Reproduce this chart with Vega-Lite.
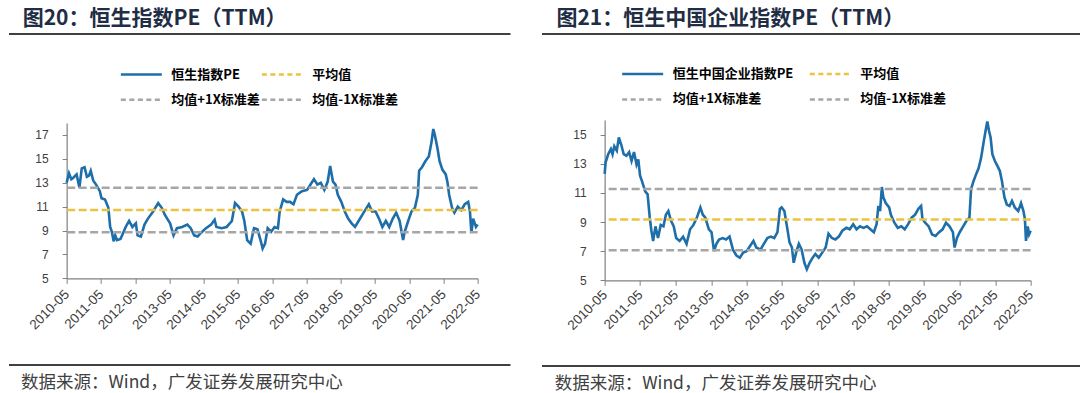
{
"$schema": "https://vega.github.io/schema/vega-lite/v6.json",
"background": "white",
"padding": {"left": 7.75, "top": 7, "right": 0, "bottom": 0},
"spacing": 0,
"resolve": {"scale": {"color": "independent"}, "legend": {"color": "independent"}},
"datasets": {
"hsi": [
{"d":"2010-05-01","pe":13.0},{"d":"2010-05-26","pe":13.8},{"d":"2010-06-20","pe":13.3},{"d":"2010-07-09","pe":13.4},{"d":"2010-08-15","pe":13.7},{"d":"2010-09-14","pe":12.6},{"d":"2010-10-09","pe":14.2},{"d":"2010-11-08","pe":14.3},{"d":"2010-12-03","pe":13.5},{"d":"2010-12-25","pe":13.6},
{"d":"2011-01-13","pe":14.0},{"d":"2011-02-08","pe":13.2},{"d":"2011-03-14","pe":12.8},{"d":"2011-04-20","pe":12.3},{"d":"2011-05-08","pe":11.7},{"d":"2011-06-14","pe":11.6},{"d":"2011-07-20","pe":10.9},{"d":"2011-08-08","pe":9.3},{"d":"2011-08-26","pe":8.9},{"d":"2011-09-14","pe":8.1},{"d":"2011-10-01","pe":8.6},{"d":"2011-10-20","pe":8.2},{"d":"2011-11-26","pe":8.3},{"d":"2011-12-14","pe":8.6},
{"d":"2012-01-20","pe":9.3},{"d":"2012-02-26","pe":9.8},{"d":"2012-04-01","pe":9.3},{"d":"2012-05-08","pe":9.6},{"d":"2012-05-26","pe":8.6},{"d":"2012-07-01","pe":8.5},{"d":"2012-08-08","pe":9.5},{"d":"2012-09-14","pe":10.0},{"d":"2012-11-08","pe":10.6},
{"d":"2013-01-01","pe":11.3},{"d":"2013-02-08","pe":10.9},{"d":"2013-03-14","pe":10.3},{"d":"2013-05-08","pe":9.6},{"d":"2013-06-14","pe":8.6},{"d":"2013-07-20","pe":9.2},{"d":"2013-09-14","pe":9.3},{"d":"2013-11-08","pe":9.5},{"d":"2013-12-14","pe":9.2},
{"d":"2014-01-20","pe":8.6},{"d":"2014-02-26","pe":8.5},{"d":"2014-04-01","pe":8.8},{"d":"2014-05-26","pe":9.2},{"d":"2014-07-20","pe":9.5},{"d":"2014-08-26","pe":9.9},{"d":"2014-09-14","pe":9.3},{"d":"2014-11-08","pe":9.2},
{"d":"2015-01-01","pe":9.3},{"d":"2015-02-26","pe":9.8},{"d":"2015-04-01","pe":11.3},{"d":"2015-05-08","pe":11.0},{"d":"2015-06-14","pe":10.6},{"d":"2015-07-09","pe":9.8},{"d":"2015-08-08","pe":8.2},{"d":"2015-09-14","pe":7.9},{"d":"2015-10-20","pe":9.2},{"d":"2015-11-26","pe":9.1},
{"d":"2016-01-01","pe":8.1},{"d":"2016-01-20","pe":7.5},{"d":"2016-02-15","pe":7.9},{"d":"2016-03-14","pe":9.2},{"d":"2016-04-20","pe":8.9},{"d":"2016-05-26","pe":9.3},{"d":"2016-07-01","pe":9.2},{"d":"2016-07-20","pe":10.6},{"d":"2016-08-26","pe":11.6},{"d":"2016-10-01","pe":11.4},{"d":"2016-11-08","pe":11.4},{"d":"2016-12-14","pe":11.2},
{"d":"2017-01-20","pe":12.0},{"d":"2017-03-14","pe":12.3},{"d":"2017-05-08","pe":12.4},{"d":"2017-06-14","pe":12.85},{"d":"2017-07-20","pe":13.3},{"d":"2017-08-26","pe":12.85},{"d":"2017-10-01","pe":13.0},{"d":"2017-11-08","pe":12.4},{"d":"2017-12-14","pe":13.1},
{"d":"2018-01-09","pe":14.4},{"d":"2018-02-08","pe":13.1},{"d":"2018-03-07","pe":12.85},{"d":"2018-04-01","pe":12.0},{"d":"2018-05-08","pe":11.4},{"d":"2018-06-14","pe":10.6},{"d":"2018-07-20","pe":10.0},{"d":"2018-08-26","pe":9.6},{"d":"2018-10-01","pe":9.3},{"d":"2018-11-08","pe":9.8},
{"d":"2019-01-01","pe":10.5},{"d":"2019-02-26","pe":11.2},{"d":"2019-04-01","pe":10.6},{"d":"2019-05-08","pe":10.6},{"d":"2019-06-14","pe":10.0},{"d":"2019-07-20","pe":9.3},{"d":"2019-08-26","pe":9.8},{"d":"2019-10-01","pe":9.3},{"d":"2019-11-08","pe":10.0},{"d":"2019-12-14","pe":10.5},
{"d":"2020-01-20","pe":9.8},{"d":"2020-02-26","pe":8.2},{"d":"2020-03-14","pe":8.9},{"d":"2020-04-20","pe":9.8},{"d":"2020-05-26","pe":10.6},{"d":"2020-07-01","pe":10.9},{"d":"2020-08-01","pe":12.0},{"d":"2020-08-15","pe":14.0},{"d":"2020-09-14","pe":14.3},{"d":"2020-10-20","pe":14.8},{"d":"2020-11-26","pe":15.2},{"d":"2020-12-25","pe":16.4},
{"d":"2021-01-13","pe":17.5},{"d":"2021-02-01","pe":16.9},{"d":"2021-02-26","pe":15.9},{"d":"2021-03-21","pe":14.8},{"d":"2021-04-20","pe":14.1},{"d":"2021-05-26","pe":13.7},{"d":"2021-06-14","pe":13.0},{"d":"2021-07-01","pe":12.0},{"d":"2021-08-01","pe":10.9},{"d":"2021-08-26","pe":10.5},{"d":"2021-10-01","pe":11.0},{"d":"2021-11-08","pe":10.7},{"d":"2021-12-14","pe":11.2},
{"d":"2022-01-20","pe":11.4},{"d":"2022-02-08","pe":10.6},{"d":"2022-02-23","pe":8.8},{"d":"2022-03-14","pe":10.0},{"d":"2022-04-13","pe":9.3},{"d":"2022-05-01","pe":9.5}
],
"hsiStats": [
{"series":"平均值","v":10.72},{"series":"均值+1X标准差","v":12.59},{"series":"均值-1X标准差","v":8.85}
],
"hscei": [
{"d":"2010-05-01","pe":12.3},{"d":"2010-05-11","pe":13.1},{"d":"2010-06-06","pe":13.65},{"d":"2010-07-04","pe":14.0},{"d":"2010-07-21","pe":13.65},{"d":"2010-08-08","pe":14.2},{"d":"2010-09-03","pe":13.9},{"d":"2010-09-24","pe":14.8},{"d":"2010-10-19","pe":14.3},{"d":"2010-11-13","pe":13.65},{"d":"2010-12-11","pe":13.55},
{"d":"2011-01-08","pe":13.8},{"d":"2011-02-02","pe":13.2},{"d":"2011-02-27","pe":13.8},{"d":"2011-03-25","pe":12.95},{"d":"2011-04-12","pe":13.3},{"d":"2011-04-30","pe":12.2},{"d":"2011-05-25","pe":11.7},{"d":"2011-06-22","pe":11.1},{"d":"2011-07-17","pe":10.9},{"d":"2011-08-08","pe":9.3},{"d":"2011-08-25","pe":8.4},{"d":"2011-09-12","pe":7.7},{"d":"2011-10-06","pe":8.7},{"d":"2011-11-01","pe":7.9},{"d":"2011-11-29","pe":8.8},{"d":"2011-12-27","pe":8.7},
{"d":"2012-01-21","pe":9.5},{"d":"2012-02-15","pe":9.75},{"d":"2012-03-13","pe":9.1},{"d":"2012-04-11","pe":8.7},{"d":"2012-05-06","pe":7.9},{"d":"2012-06-10","pe":7.7},{"d":"2012-07-16","pe":8.0},{"d":"2012-08-21","pe":7.5},{"d":"2012-09-26","pe":8.5},{"d":"2012-10-31","pe":8.8},{"d":"2012-12-05","pe":9.3},
{"d":"2013-01-10","pe":10.0},{"d":"2013-02-04","pe":9.5},{"d":"2013-03-02","pe":9.3},{"d":"2013-04-07","pe":8.5},{"d":"2013-05-05","pe":8.3},{"d":"2013-05-30","pe":7.0},{"d":"2013-06-24","pe":7.5},{"d":"2013-07-21","pe":7.8},{"d":"2013-08-27","pe":7.9},{"d":"2013-10-01","pe":7.8},{"d":"2013-11-06","pe":8.0},{"d":"2013-12-11","pe":7.1},
{"d":"2014-01-16","pe":6.7},{"d":"2014-02-20","pe":6.55},{"d":"2014-03-26","pe":6.9},{"d":"2014-05-01","pe":7.0},{"d":"2014-06-05","pe":7.35},{"d":"2014-07-10","pe":7.7},{"d":"2014-08-08","pe":7.25},{"d":"2014-09-20","pe":7.1},{"d":"2014-10-25","pe":7.5},{"d":"2014-11-30","pe":7.9},
{"d":"2015-01-04","pe":8.0},{"d":"2015-02-09","pe":7.9},{"d":"2015-03-14","pe":8.3},{"d":"2015-04-08","pe":9.9},{"d":"2015-04-26","pe":10.0},{"d":"2015-05-24","pe":9.75},{"d":"2015-06-22","pe":8.6},{"d":"2015-07-16","pe":7.6},{"d":"2015-08-10","pe":7.25},{"d":"2015-08-28","pe":6.2},{"d":"2015-09-26","pe":7.0},{"d":"2015-10-20","pe":7.5},{"d":"2015-11-18","pe":7.1},{"d":"2015-12-16","pe":6.2},
{"d":"2016-01-10","pe":5.75},{"d":"2016-02-08","pe":6.2},{"d":"2016-03-10","pe":6.55},{"d":"2016-04-07","pe":6.8},{"d":"2016-05-12","pe":6.55},{"d":"2016-06-17","pe":6.9},{"d":"2016-07-22","pe":7.25},{"d":"2016-08-20","pe":8.2},{"d":"2016-09-24","pe":7.9},{"d":"2016-10-30","pe":7.8},{"d":"2016-12-04","pe":8.0},
{"d":"2017-01-09","pe":8.4},{"d":"2017-02-21","pe":8.6},{"d":"2017-03-26","pe":8.5},{"d":"2017-05-01","pe":8.85},{"d":"2017-06-05","pe":8.5},{"d":"2017-07-10","pe":8.7},{"d":"2017-08-15","pe":8.6},{"d":"2017-09-20","pe":8.7},{"d":"2017-10-25","pe":8.5},{"d":"2017-11-30","pe":8.3},{"d":"2017-12-28","pe":8.85},
{"d":"2018-01-15","pe":10.1},{"d":"2018-02-02","pe":9.75},{"d":"2018-02-20","pe":11.4},{"d":"2018-03-07","pe":10.7},{"d":"2018-04-01","pe":10.3},{"d":"2018-05-06","pe":10.0},{"d":"2018-05-24","pe":9.5},{"d":"2018-06-29","pe":8.95},{"d":"2018-08-03","pe":8.6},{"d":"2018-09-08","pe":8.7},{"d":"2018-10-13","pe":8.5},{"d":"2018-11-18","pe":8.85},{"d":"2018-12-23","pe":9.3},
{"d":"2019-01-28","pe":9.5},{"d":"2019-03-03","pe":9.9},{"d":"2019-03-31","pe":10.1},{"d":"2019-04-14","pe":9.2},{"d":"2019-05-12","pe":8.95},{"d":"2019-06-17","pe":8.7},{"d":"2019-07-22","pe":8.15},{"d":"2019-08-27","pe":8.05},{"d":"2019-10-02","pe":8.3},{"d":"2019-11-07","pe":8.5},{"d":"2019-12-12","pe":8.95},
{"d":"2020-01-17","pe":8.7},{"d":"2020-02-21","pe":8.3},{"d":"2020-03-09","pe":7.25},{"d":"2020-04-03","pe":7.9},{"d":"2020-05-01","pe":8.3},{"d":"2020-06-06","pe":8.7},{"d":"2020-07-11","pe":9.1},{"d":"2020-08-09","pe":9.3},{"d":"2020-08-26","pe":11.25},{"d":"2020-09-20","pe":11.8},{"d":"2020-10-18","pe":12.3},{"d":"2020-11-12","pe":12.7},{"d":"2020-12-07","pe":13.4},
{"d":"2021-01-04","pe":14.55},{"d":"2021-01-22","pe":15.25},{"d":"2021-02-09","pe":15.9},{"d":"2021-02-27","pe":15.25},{"d":"2021-03-15","pe":14.8},{"d":"2021-04-02","pe":13.65},{"d":"2021-04-27","pe":13.2},{"d":"2021-05-24","pe":12.85},{"d":"2021-06-18","pe":12.5},{"d":"2021-07-10","pe":11.8},{"d":"2021-08-04","pe":10.7},{"d":"2021-08-29","pe":10.2},{"d":"2021-09-26","pe":10.1},{"d":"2021-10-21","pe":10.45},{"d":"2021-11-19","pe":10.0},{"d":"2021-12-24","pe":9.75},
{"d":"2022-01-22","pe":10.3},{"d":"2022-02-16","pe":9.75},{"d":"2022-03-03","pe":9.2},{"d":"2022-03-14","pe":7.7},{"d":"2022-04-01","pe":8.7},{"d":"2022-04-15","pe":8.15},{"d":"2022-05-01","pe":8.4}
],
"hsceiStats": [
{"series":"平均值","v":9.17},{"series":"均值+1X标准差","v":11.27},{"series":"均值-1X标准差","v":7.06}
]
},
"hconcat": [
{
"spacing": 32,
"center": true,
"resolve": {"scale": {"color": "independent"}, "legend": {"color": "independent"}},
"vconcat": [
{
"width": 501.5, "height": 1,
"data": {"values": [{}]},
"title": {"text": "图20：恒生指数PE（TTM）", "anchor": "start", "frame": "group", "dx": 13.7, "offset": 4.5, "fontSize": 21, "fontWeight": "bold", "font": "Noto Sans CJK SC", "color": "#1f2d45"},
"mark": {"type": "rule", "color": "#000000", "strokeWidth": 1.5},
"encoding": {"y": {"datum": 0, "type": "quantitative", "scale": {"domain": [0, 1]}, "axis": {"orient": "right", "domain": false, "ticks": false, "labels": false, "grid": false, "title": null, "minExtent": 30, "maxExtent": 30}}}
},
{
"width": 411, "height": 155.35,
"layer": [
{
"data": {"name": "hsi"},
"mark": {"type": "line", "strokeWidth": 2.6},
"encoding": {
"x": {"field": "d", "type": "temporal", "title": null,
"scale": {"type": "utc", "domain": [{"year": 2010, "month": 5, "date": 1, "utc": true}, {"year": 2022, "month": 5, "date": 1, "utc": true}]},
"axis": {"values": [{"year":2010,"month":5,"date":1,"utc":true},{"year":2011,"month":5,"date":1,"utc":true},{"year":2012,"month":5,"date":1,"utc":true},{"year":2013,"month":5,"date":1,"utc":true},{"year":2014,"month":5,"date":1,"utc":true},{"year":2015,"month":5,"date":1,"utc":true},{"year":2016,"month":5,"date":1,"utc":true},{"year":2017,"month":5,"date":1,"utc":true},{"year":2018,"month":5,"date":1,"utc":true},{"year":2019,"month":5,"date":1,"utc":true},{"year":2020,"month":5,"date":1,"utc":true},{"year":2021,"month":5,"date":1,"utc":true},{"year":2022,"month":5,"date":1,"utc":true}],
"format": "%Y-%m", "labelAngle": -45, "labelAlign": "right", "labelBaseline": "middle", "labelFontSize": 13.5, "tickSize": 5, "labelPadding": 8.5, "labelOverlap": false, "labelFlush": false, "minExtent": 53.35, "maxExtent": 53.35}},
"y": {"field": "pe", "type": "quantitative", "title": null, "scale": {"domain": [5, 18], "nice": false},
"axis": {"values": [5, 7, 9, 11, 13, 15, 17], "labelFontSize": 12, "tickSize": 4.5, "labelPadding": 14, "labelOverlap": false}},
"color": {"datum": "恒生指数PE", "type": "nominal", "title": null,
"scale": {"domain": ["恒生指数PE", "均值+1X标准差", "平均值", "均值-1X标准差"], "range": ["#1e6eaa", "#a6a6a6", "#ecc240", "#a6a6a6"]},
"legend": {"orient": "none", "legendX": 52.7, "legendY": -55.5, "columns": 2, "columnPadding": -2,
"encode": {"symbols": {"update": {"strokeDash": {"signal": "datum.index === 0 ? [1, 0] : [5, 3.5]"}}}}}}
}
},
{
"data": {"name": "hsiStats"},
"mark": {"type": "rule", "strokeWidth": 2.5, "strokeDash": [8, 3.5]},
"encoding": {
"y": {"field": "v", "type": "quantitative", "axis": {"values": [5, 7, 9, 11, 13, 15, 17], "labelFontSize": 12, "tickSize": 4.5, "labelPadding": 14, "labelOverlap": false}},
"color": {"field": "series", "type": "nominal", "title": null}
}
}
]
},
{
"width": 501.5, "height": 1,
"data": {"values": [{}]},
"title": {"text": "数据来源：Wind，广发证券发展研究中心", "orient": "bottom", "anchor": "start", "frame": "group", "dx": 12, "offset": 7.5, "fontSize": 17.5, "fontWeight": "normal", "font": "Noto Sans CJK SC", "color": "#404040"},
"mark": {"type": "rule", "color": "#000000", "strokeWidth": 1.5},
"encoding": {"y": {"datum": 1, "type": "quantitative", "scale": {"domain": [0, 1]}, "axis": {"orient": "right", "domain": false, "ticks": false, "labels": false, "grid": false, "title": null, "minExtent": 30, "maxExtent": 30}}}
}
]
},
{
"spacing": 32,
"center": true,
"resolve": {"scale": {"color": "independent"}, "legend": {"color": "independent"}},
"vconcat": [
{
"width": 539, "height": 1,
"data": {"values": [{}]},
"title": {"text": "图21：恒生中国企业指数PE（TTM）", "anchor": "start", "frame": "group", "dx": 14.4, "offset": 4.5, "fontSize": 21, "fontWeight": "bold", "font": "Noto Sans CJK SC", "color": "#1f2d45"},
"mark": {"type": "rule", "color": "#000000", "strokeWidth": 1.5},
"encoding": {"y": {"datum": 0, "type": "quantitative", "scale": {"domain": [0, 1]}, "axis": {"orient": "right", "domain": false, "ticks": false, "labels": false, "grid": false, "title": null, "minExtent": 17.5, "maxExtent": 17.5}}}
},
{
"width": 426, "height": 160.3,
"layer": [
{
"data": {"name": "hscei"},
"mark": {"type": "line", "strokeWidth": 2.6},
"encoding": {
"x": {"field": "d", "type": "temporal", "title": null,
"scale": {"type": "utc", "domain": [{"year": 2010, "month": 5, "date": 1, "utc": true}, {"year": 2022, "month": 5, "date": 1, "utc": true}]},
"axis": {"values": [{"year":2010,"month":5,"date":1,"utc":true},{"year":2011,"month":5,"date":1,"utc":true},{"year":2012,"month":5,"date":1,"utc":true},{"year":2013,"month":5,"date":1,"utc":true},{"year":2014,"month":5,"date":1,"utc":true},{"year":2015,"month":5,"date":1,"utc":true},{"year":2016,"month":5,"date":1,"utc":true},{"year":2017,"month":5,"date":1,"utc":true},{"year":2018,"month":5,"date":1,"utc":true},{"year":2019,"month":5,"date":1,"utc":true},{"year":2020,"month":5,"date":1,"utc":true},{"year":2021,"month":5,"date":1,"utc":true},{"year":2022,"month":5,"date":1,"utc":true}],
"format": "%Y-%m", "labelAngle": -45, "labelAlign": "right", "labelBaseline": "middle", "labelFontSize": 13.5, "tickSize": 5, "labelPadding": 7, "labelOverlap": false, "labelFlush": false, "minExtent": 51.8, "maxExtent": 51.8}},
"y": {"field": "pe", "type": "quantitative", "title": null, "scale": {"domain": [5, 16], "nice": false},
"axis": {"values": [5, 7, 9, 11, 13, 15], "labelFontSize": 12, "tickSize": 4.5, "labelPadding": 14, "labelOverlap": false}},
"color": {"datum": "恒生中国企业指数PE", "type": "nominal", "title": null,
"scale": {"domain": ["恒生中国企业指数PE", "均值+1X标准差", "平均值", "均值-1X标准差"], "range": ["#1e6eaa", "#a6a6a6", "#ecc240", "#a6a6a6"]},
"legend": {"orient": "none", "legendX": 16, "legendY": -52.88, "columns": 2, "columnPadding": 14.7,
"encode": {"symbols": {"update": {"strokeDash": {"signal": "datum.index === 0 ? [1, 0] : [5, 3.5]"}}}}}}
}
},
{
"data": {"name": "hsceiStats"},
"mark": {"type": "rule", "strokeWidth": 2.5, "strokeDash": [8, 3.5]},
"encoding": {
"y": {"field": "v", "type": "quantitative", "axis": {"values": [5, 7, 9, 11, 13, 15], "labelFontSize": 12, "tickSize": 4.5, "labelPadding": 14, "labelOverlap": false}},
"color": {"field": "series", "type": "nominal", "title": null}
}
}
]
},
{
"width": 539, "height": 1,
"data": {"values": [{}]},
"title": {"text": "数据来源：Wind，广发证券发展研究中心", "orient": "bottom", "anchor": "start", "frame": "group", "dx": 12.7, "offset": 7.5, "fontSize": 17.5, "fontWeight": "normal", "font": "Noto Sans CJK SC", "color": "#404040"},
"mark": {"type": "rule", "color": "#000000", "strokeWidth": 1.5},
"encoding": {"y": {"datum": 1, "type": "quantitative", "scale": {"domain": [0, 1]}, "axis": {"orient": "right", "domain": false, "ticks": false, "labels": false, "grid": false, "title": null, "minExtent": 17.5, "maxExtent": 17.5}}}
}
]
}
],
"config": {
"view": {"stroke": null},
"font": "Liberation Sans",
"axis": {"grid": false, "domainColor": "#808080", "tickColor": "#808080", "labelColor": "#404040", "labelFont": "Liberation Sans", "domainWidth": 1.2, "tickWidth": 1},
"legend": {"symbolType": "stroke", "symbolSize": 1681, "symbolStrokeWidth": 2.5, "clipHeight": 14, "rowPadding": 11.3, "labelFont": "Noto Sans CJK SC", "labelFontSize": 13, "labelFontWeight": "bold", "labelColor": "#000000", "labelOffset": 8, "padding": 0, "labelLimit": 300}
}
}
